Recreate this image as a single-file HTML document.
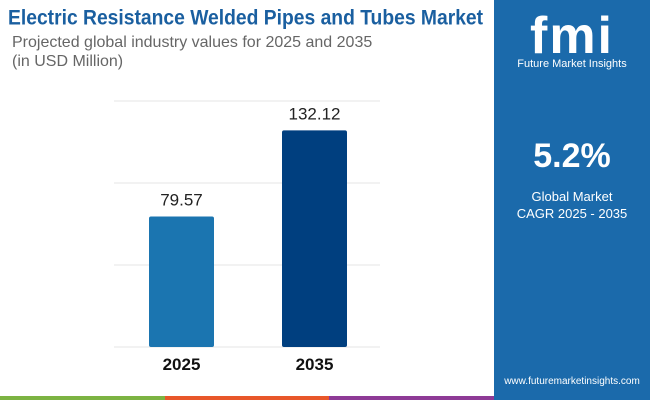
<!DOCTYPE html>
<html><head><meta charset="utf-8"><style>
body{margin:0;width:650px;height:400px;position:relative;background:#fff;font-family:"Liberation Sans",sans-serif;overflow:hidden}
.t{position:absolute;white-space:nowrap}
</style></head><body>
<div class="t" style="left:8px;top:7px;font-size:19.3px;font-weight:bold;color:#1a5fa0;transform:scaleY(1.08);transform-origin:left top">Electric Resistance Welded Pipes and Tubes Market</div>
<div class="t" style="left:12px;top:33px;font-size:16px;color:#666;line-height:19px">Projected global industry values for 2025 and 2035<br>(in USD Million)</div>
<div style="position:absolute;left:494px;top:0;width:156px;height:400px;background:#1b6aab">
 <div class="t" style="left:0;width:156px;text-align:center;top:6px;font-size:52px;font-weight:bold;color:#fff;letter-spacing:2px">fmi</div>
 <div class="t" style="left:0;width:156px;text-align:center;top:58px;font-size:11px;color:#fff">Future Market Insights</div>
 <div class="t" style="left:0;width:156px;text-align:center;top:137px;font-size:34px;font-weight:bold;color:#fff">5.2%</div>
 <div class="t" style="left:0;width:156px;text-align:center;top:188px;font-size:13px;color:#fff;line-height:17px">Global Market<br>CAGR 2025 - 2035</div>
 <div class="t" style="left:0;width:156px;text-align:center;top:376px;font-size:10px;color:#fff">www.futuremarketinsights.com</div>
</div>
<div style="position:absolute;left:0;top:396px;width:165px;height:4px;background:#7cb342"></div>
<div style="position:absolute;left:165px;top:396px;width:164px;height:4px;background:#e8572a"></div>
<div style="position:absolute;left:329px;top:396px;width:165px;height:4px;background:#8e3a96"></div>
<svg id="c" width="650" height="400" style="position:absolute;left:0;top:0"></svg>
<script>
const categories=["2025","2035"];
const values=[79.57,132.12];
const labels=["79.57","132.12"];
const gridTicks=[0,50,100,150];
const colors=["#1b75b0","#003f7f"];
const svg=document.getElementById('c');const NS="http://www.w3.org/2000/svg";
const y=v=>347-v*(246/150);
const x=i=>149+i*133;
function mk(t,a){const e=document.createElementNS(NS,t);for(const k in a)e.setAttribute(k,a[k]);svg.appendChild(e);return e;}
gridTicks.forEach(g=>{const l=mk('line',{x1:114,x2:380,y1:y(g),y2:y(g),stroke:'#e6e6e6','stroke-width':1});

});
categories.forEach((c,i)=>{
const r=mk('rect',{x:x(i),y:y(values[i]),width:65,height:y(0)-y(values[i]),fill:colors[i],rx:2});


const v=mk('text',{x:x(i)+32.5,y:y(values[i])-11,'text-anchor':'middle','font-size':17,fill:'#222','font-family':'Liberation Sans'});v.textContent=labels[i];


const t=mk('text',{x:x(i)+32.5,y:370,'text-anchor':'middle','font-size':17,'font-weight':'bold',fill:'#111','font-family':'Liberation Sans'});t.textContent=c;


});
</script>
</body></html>
